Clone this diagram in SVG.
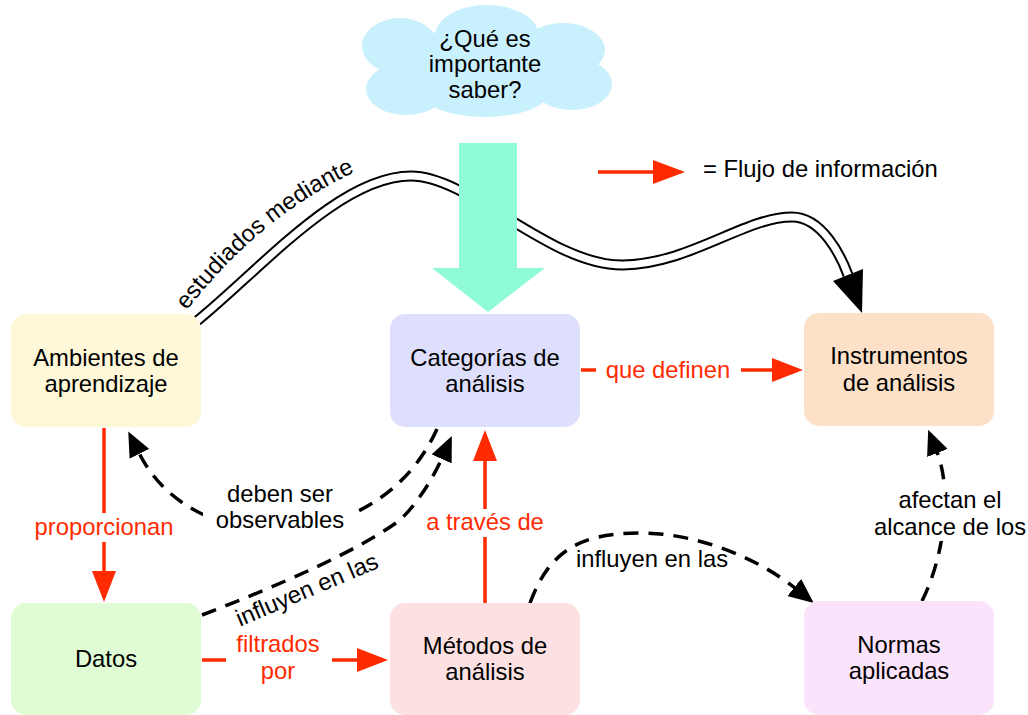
<svg xmlns="http://www.w3.org/2000/svg" width="1028" height="715" viewBox="0 0 1028 715">
<style>
text{font-family:"Liberation Sans",Arial,Helvetica,sans-serif;font-size:23.8px;text-anchor:middle;fill:#000}
.red{fill:#ff2a00}
.rl{stroke:#ff2a00;stroke-width:3.5;fill:none}
.rh{fill:#ff2a00;stroke:none}
.dash{stroke:#000;stroke-width:3.5;fill:none;stroke-dasharray:15 10;marker-end:url(#ah)}
.box{stroke:none}
</style>
<defs>
<marker id="ah" viewBox="0 0 25 22" refX="1" refY="11" markerWidth="25" markerHeight="22" markerUnits="userSpaceOnUse" orient="auto">
<path d="M0,0 L25,11 L0,22 z" fill="#000" stroke="none"/>
</marker>
<path id="tp" d="M185,313 Q262,212 368,166" fill="none" stroke="none"/>
</defs>
<rect width="1028" height="715" fill="#fff"/>
<g id="cloud">
<g fill="#c8f0fd">
<ellipse cx="400" cy="46" rx="38" ry="28"/>
<ellipse cx="487" cy="36" rx="52" ry="31"/>
<ellipse cx="563" cy="50" rx="42" ry="27"/>
<ellipse cx="406" cy="89" rx="40" ry="26"/>
<ellipse cx="485" cy="92" rx="64" ry="25"/>
<ellipse cx="572" cy="84" rx="40" ry="26"/>
<ellipse cx="485" cy="64" rx="102" ry="36"/>
</g>
<text x="485" y="47">¿Qué es</text>
<text x="485" y="72">importante</text>
<text x="485" y="98">saber?</text>
</g>
<g id="connectors">
<path d="M197,321 C260,270 340,176 411,176 C470,176 550,266 623,265 C690,264 745,217 792,217 C822,217 841,256 848,275" stroke="#000" stroke-width="11" fill="none"/>
<path d="M197,321 C260,270 340,176 411,176 C470,176 550,266 623,265 C690,264 745,217 792,217 C822,217 841,256 848,275" stroke="#fff" stroke-width="7" fill="none"/>
<polygon points="862,313 863,269 833,281" fill="#000"/>
<text style="text-anchor:start"><textPath href="#tp" startOffset="3">estudiados mediante</textPath></text>
<polygon points="459,143 517,143 517,268 545,268 488,312 432,268 459,268" fill="#8ffcd5"/>
<line class="rl" x1="104" y1="428" x2="104" y2="513"/>
<line class="rl" x1="104" y1="542" x2="104" y2="573"/>
<polygon class="rh" points="92,571 116,571 104,602"/>
<text class="red" x="104" y="535">proporcionan</text>
<line class="rl" x1="202" y1="660" x2="226" y2="660"/>
<line class="rl" x1="332" y1="660" x2="359" y2="660"/>
<polygon class="rh" points="357,648 357,672 388,660"/>
<text class="red" x="278" y="652">filtrados</text>
<text class="red" x="278" y="679">por</text>
<line class="rl" x1="485" y1="603" x2="485" y2="537"/>
<line class="rl" x1="485" y1="509" x2="485" y2="459"/>
<polygon class="rh" points="473,461 497,461 485,430"/>
<text class="red" x="485" y="530">a través de</text>
<line class="rl" x1="581" y1="370" x2="596" y2="370"/>
<line class="rl" x1="741" y1="370" x2="774" y2="370"/>
<polygon class="rh" points="772,358 772,382 803,370"/>
<text class="red" x="668" y="378">que definen</text>
<line class="rl" x1="598" y1="172" x2="655" y2="172"/>
<polygon class="rh" points="653,160 653,184 685,172"/>
<text x="703" y="177" style="text-anchor:start">= Flujo de información</text>
<path class="dash" d="M437,429 C405,500 335,532 272,530 C205,528 160,495 139,453"/>
<rect x="203" y="484" width="155" height="52" fill="#fff"/>
<text x="280" y="502">deben ser</text>
<text x="280" y="528">observables</text>
<path class="dash" d="M202,615 C280,585 360,550 400,520 C418,503 433,478 442,458"/>
<text transform="translate(310,597) rotate(-23)">influyen en las</text>
<path class="dash" d="M530,603 C548,555 575,533 640,533 C700,533 760,560 795,588"/>
<text x="652" y="567">influyen en las</text>
<path class="dash" d="M922,601 C945,555 952,490 937,452"/>
<rect x="870" y="484" width="158" height="57" fill="#fff"/>
<text x="950" y="508">afectan el</text>
<text x="950" y="535">alcance de los</text>
</g>
<g id="ambientes">
<rect class="box" x="11" y="314" width="190" height="113" rx="15" fill="#fef8d8"/>
<text x="106" y="366">Ambientes de</text>
<text x="106" y="392">aprendizaje</text>
</g>
<g id="categorias">
<rect class="box" x="390" y="314" width="190" height="113" rx="15" fill="#dedffc"/>
<text x="485" y="366">Categorías de</text>
<text x="485" y="392">análisis</text>
</g>
<g id="instrumentos">
<rect class="box" x="804" y="313" width="190" height="113" rx="15" fill="#fde0c8"/>
<text x="899" y="364">Instrumentos</text>
<text x="899" y="391">de análisis</text>
</g>
<g id="datos">
<rect class="box" x="11" y="603" width="190" height="112" rx="15" fill="#e0fcd4"/>
<text x="106" y="667">Datos</text>
</g>
<g id="metodos">
<rect class="box" x="390" y="603" width="190" height="112" rx="15" fill="#fde0e1"/>
<text x="485" y="654">Métodos de</text>
<text x="485" y="680">análisis</text>
</g>
<g id="normas">
<rect class="box" x="804" y="601" width="190" height="114" rx="15" fill="#fbe3fb"/>
<text x="899" y="653">Normas</text>
<text x="899" y="679">aplicadas</text>
</g>
</svg>
